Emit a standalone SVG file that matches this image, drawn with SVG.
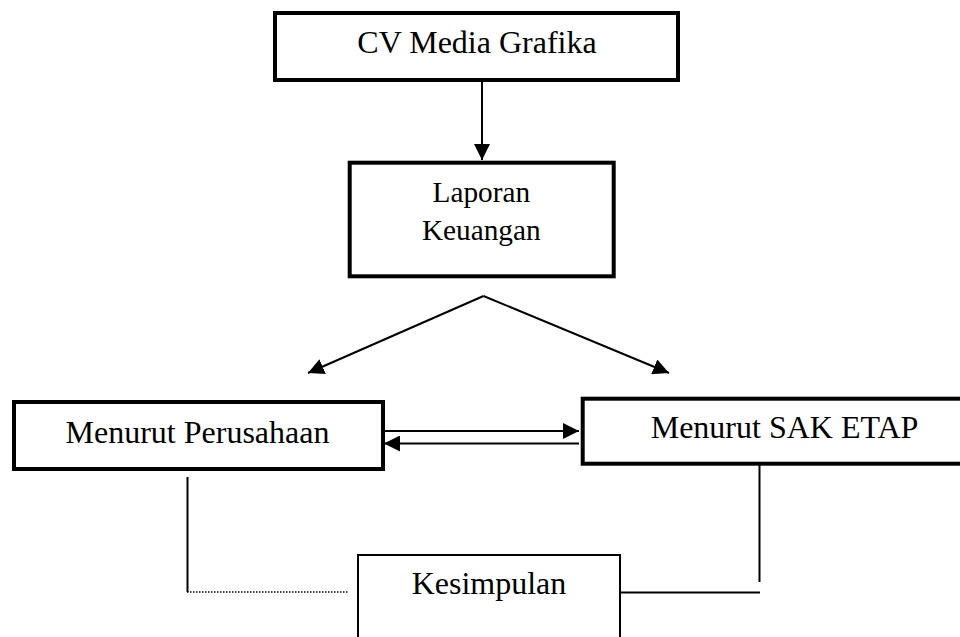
<svg xmlns="http://www.w3.org/2000/svg" width="960" height="637" viewBox="0 0 960 637">
<style>
.box{fill:#fff;stroke:#000;stroke-width:4}
.thin{fill:#fff;stroke:#000;stroke-width:2}
.lbl{font-family:"Liberation Serif","Times New Roman",serif;font-size:32px;fill:#000;text-anchor:middle}
.con{fill:none;stroke:#000;stroke-width:2}
.dot{fill:none;stroke:#000;stroke-width:1.5;stroke-dasharray:1.5 1.5}
</style>
<defs>
<marker id="ah" viewBox="0 0 10 10" refX="10" refY="5" markerWidth="8" markerHeight="8" markerUnits="strokeWidth" orient="auto">
<path d="M0,0 L10,5 L0,10 Z" fill="#000"/>
</marker>
</defs>
<rect width="960" height="637" fill="#fff"/>
<g id="connectors">
<line class="con" x1="482" y1="82" x2="482" y2="160" marker-end="url(#ah)"/>
<line class="con" x1="483.5" y1="296" x2="308" y2="373" marker-end="url(#ah)"/>
<line class="con" x1="483.5" y1="296" x2="669" y2="373" marker-end="url(#ah)"/>
<line class="con" x1="385" y1="431" x2="579" y2="431" marker-end="url(#ah)"/>
<line class="con" x1="579" y1="443.5" x2="384" y2="443.5" marker-end="url(#ah)"/>
<line class="con" x1="187.5" y1="477" x2="187.5" y2="592"/>
<line class="dot" x1="187" y1="592" x2="349" y2="592"/>
<line class="con" x1="759.5" y1="463" x2="759.5" y2="582"/>
<line class="con" x1="621" y1="592.5" x2="760" y2="592.5"/>
</g>
<g id="node-cv">
<rect class="box" x="275" y="13" width="403" height="67"/>
<text class="lbl" x="477" y="53">CV Media Grafika</text>
</g>
<g id="node-laporan">
<rect class="box" x="349.7" y="162.7" width="264" height="113.6"/>
<text class="lbl" x="481.3" y="201.5" style="font-size:29.3px">Laporan</text>
<text class="lbl" x="481.3" y="240" style="font-size:29.3px">Keuangan</text>
</g>
<g id="node-perusahaan">
<rect class="box" x="14" y="402" width="369" height="67"/>
<text class="lbl" x="197.5" y="443">Menurut Perusahaan</text>
</g>
<g id="node-sak">
<rect class="box" x="582.7" y="398.7" width="400" height="65"/>
<text class="lbl" x="784.5" y="437.5">Menurut SAK ETAP</text>
</g>
<g id="node-kesimpulan">
<rect class="thin" x="358" y="555" width="262" height="100"/>
<text class="lbl" x="489" y="594">Kesimpulan</text>
</g>
</svg>
